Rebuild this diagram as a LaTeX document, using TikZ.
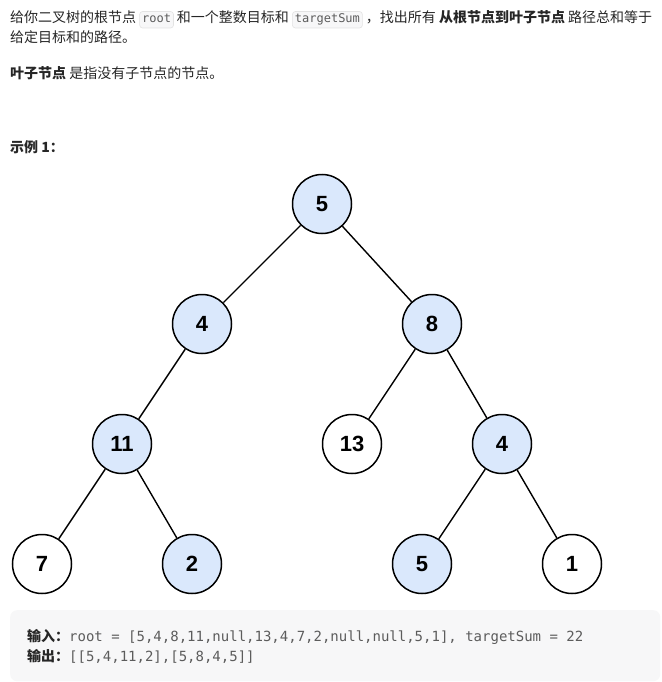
\documentclass[tikz,border=0pt]{standalone}
\usepackage{fontspec}
\setmainfont{Noto Sans CJK SC}
\setmonofont{DejaVu Sans Mono}
\newfontfamily\nodefont{Liberation Sans}
\definecolor{txt}{HTML}{262626}
\definecolor{codetxt}{HTML}{5C5C5C}
\definecolor{chipbg}{HTML}{F7F7F8}
\definecolor{chipbd}{HTML}{E3E3E3}
\definecolor{boxbg}{HTML}{F7F7F8}
\definecolor{nodeblue}{HTML}{DAE8FC}
\newcommand{\codechip}[1]{\tikz[baseline=(chipc.base)]\node[anchor=center,draw=chipbd,fill=chipbg,line width=0.6pt,rounded corners=3pt,inner xsep=2.5pt,inner ysep=0pt,text=codetxt,font=\ttfamily\fontsize{12}{14}\selectfont](chipc){\rule[-5pt]{0pt}{16.5pt}#1};}
\begin{document}
\begin{tikzpicture}[x=1pt,y=-1pt,
  treenode/.style={circle,draw=black,line width=1.5pt,minimum size=59pt,inner sep=0pt,font=\nodefont\bfseries\fontsize{22}{26}\selectfont},
  bluenode/.style={treenode,fill=nodeblue},
  whitenode/.style={treenode,fill=white},
  edge/.style={draw=black,line width=1.4pt},
  para/.style={anchor=base west,inner sep=0pt,text=txt,font=\fontsize{14}{16}\selectfont},
  codeline/.style={anchor=base west,inner sep=0pt,text=txt,font=\fontsize{14}{16}\selectfont}]
\useasboundingbox (0,0) rectangle (661,682);
\fill[white] (0,0) rectangle (661,682);
% text
\node[para] (l1) at (10,23) {给你二叉树的根节点 \codechip{root} 和一个整数目标和 \codechip{targetSum} ，找出所有 \textbf{从根节点到叶子节点} 路径总和等于};
\node[para] (l2) at (10,43) {给定目标和的路径。};
\node[para] (l3) at (10,79) {\textbf{叶子节点} 是指没有子节点的节点。};
\node[para] (ex) at (10,152) {\textbf{示例 1：}};
% tree
\node[bluenode] (n5) at (322,204) {5};
\node[bluenode] (n4) at (202,324) {4};
\node[bluenode] (n8) at (432,324) {8};
\node[bluenode] (n11) at (122,444) {11};
\node[whitenode] (n13) at (352,444) {13};
\node[bluenode] (n4b) at (502,444) {4};
\node[whitenode] (n7) at (42,564) {7};
\node[bluenode] (n2) at (192,564) {2};
\node[bluenode] (n5b) at (422,564) {5};
\node[whitenode] (n1) at (572,564) {1};
\draw[edge] (n5) -- (n4);
\draw[edge] (n5) -- (n8);
\draw[edge] (n4) -- (n11);
\draw[edge] (n8) -- (n13);
\draw[edge] (n8) -- (n4b);
\draw[edge] (n11) -- (n7);
\draw[edge] (n11) -- (n2);
\draw[edge] (n4b) -- (n5b);
\draw[edge] (n4b) -- (n1);
% code box
\node[fill=boxbg,rounded corners=7pt,minimum width=650pt,minimum height=71pt,inner sep=0pt,anchor=north west] (box) at (10,610) {};
\node[codeline] (in) at (27,641) {\textbf{输入：}\color{codetxt}\ttfamily\fontsize{14}{16}\selectfont root = [5,4,8,11,null,13,4,7,2,null,null,5,1], targetSum = 22};
\node[codeline] (out) at (27,661) {\textbf{输出：}\color{codetxt}\ttfamily\fontsize{14}{16}\selectfont [[5,4,11,2],[5,8,4,5]]};
\end{tikzpicture}
\end{document}
